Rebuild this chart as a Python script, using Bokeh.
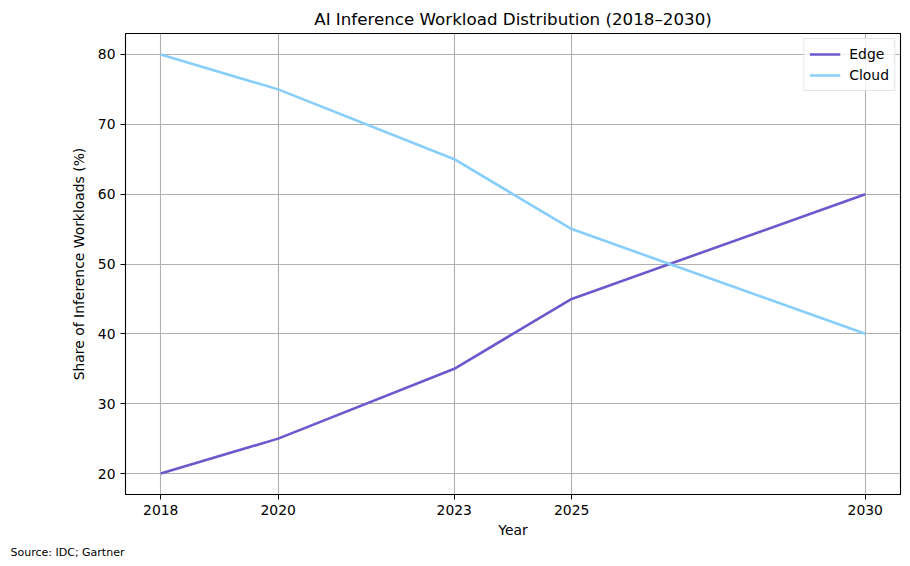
from bokeh.plotting import figure
from bokeh.models import FixedTicker, Title, Legend, LegendItem, Range1d
from bokeh.embed import file_html
from bokeh.resources import INLINE

years = [2018, 2020, 2023, 2025, 2030]
edge = [20, 25, 35, 45, 60]
cloud = [80, 75, 65, 55, 40]
y_ticks = [20, 30, 40, 50, 60, 70, 80]

FONT = "DejaVu Sans"

p = figure(width=910, height=566, output_backend="svg", toolbar_location=None,
           x_range=Range1d(2017.4, 2030.6), y_range=Range1d(17, 83),
           title="AI Inference Workload Distribution (2018\u20132030)",
           min_border_left=125, min_border_right=10, min_border_top=33, min_border_bottom=72)

p.title.text_font = FONT
p.title.text_font_size = "16.7px"
p.title.text_font_style = "normal"
p.title.align = "center"
p.title.text_color = "black"

r1 = p.line(years, edge, line_color="#6a5acd", line_width=2.6)
r2 = p.line(years, cloud, line_color="#87cefa", line_width=2.6)

legend = Legend(items=[LegendItem(label="Edge", renderers=[r1]),
                       LegendItem(label="Cloud", renderers=[r2])],
                location="top_right")
legend.label_text_font = FONT
legend.label_text_font_size = "13.9px"
legend.label_text_color = "black"
legend.glyph_width = 31
legend.glyph_height = 20
legend.label_height = 20
legend.label_standoff = 9
legend.spacing = 1
legend.padding = 5
legend.margin = 5
legend.border_line_color = "#cccccc"
legend.border_line_width = 1
legend.background_fill_alpha = 0.8
p.add_layout(legend)

p.xaxis.ticker = FixedTicker(ticks=years)
p.yaxis.ticker = FixedTicker(ticks=y_ticks)
p.xaxis.axis_label = "Year"
p.yaxis.axis_label = "Share of Inference Workloads (%)"
for ax in (p.xaxis, p.yaxis):
    ax.axis_label_text_font = FONT
    ax.axis_label_text_font_size = "13.9px"
    ax.axis_label_text_font_style = "normal"
    ax.axis_label_text_color = "black"
    ax.major_label_text_font = FONT
    ax.major_label_text_font_size = "13.9px"
    ax.major_label_text_color = "black"
    ax.major_tick_out = 5
    ax.major_tick_in = 0
    ax.minor_tick_line_color = None
    ax.major_tick_line_color = "black"
    ax.axis_line_color = "black"
    ax.major_label_standoff = 5
p.xaxis.axis_label_standoff = 4
p.yaxis.axis_label_standoff = 8

p.grid.grid_line_color = "#b0b0b0"
p.grid.grid_line_width = 1.1
p.outline_line_color = "black"
p.outline_line_width = 1.1
p.outline_line_alpha = 1

src = Title(text="Source: IDC; Gartner", align="left", offset=-115,
            text_font=FONT, text_font_size="11px", text_font_style="normal",
            text_color="black", standoff=6)
p.add_layout(src, "below")

open("out.html", "w").write(file_html(p, INLINE))
